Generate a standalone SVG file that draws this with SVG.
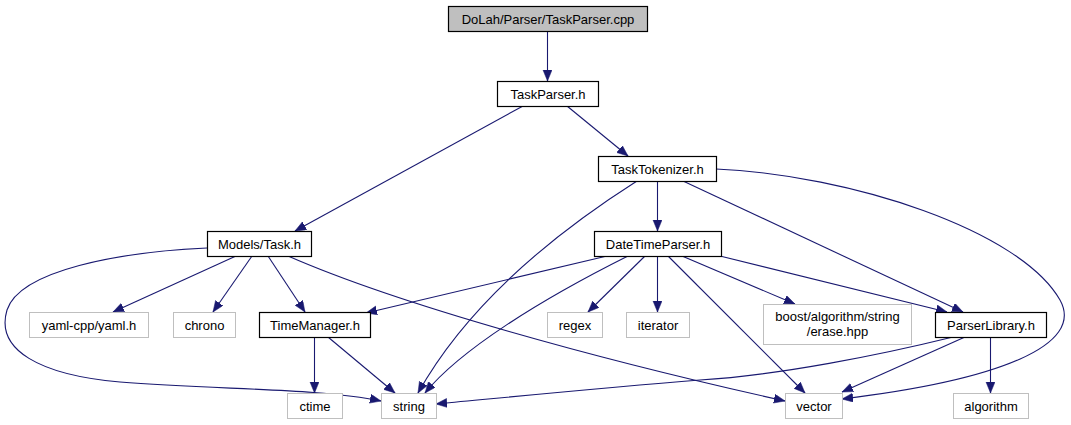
<svg xmlns="http://www.w3.org/2000/svg" width="1071" height="425" viewBox="0 0 1071 425">
<style>
.n rect{fill:#fff;stroke:#000;stroke-width:1.2}
.n.root rect{fill:#bfbfbf}
.n.ext rect{stroke:#bfbfbf;stroke-width:1}
text{font-family:"Liberation Sans",Arial,sans-serif;font-size:13px;fill:#000;text-anchor:middle}
#edges path{fill:none;stroke:#191970;stroke-width:1.1;marker-end:url(#ah)}
</style>
<defs>
<marker id="ah" markerUnits="userSpaceOnUse" markerWidth="12" markerHeight="10" refX="11" refY="4.5" orient="auto">
<path d="M0,0 L11,4.5 L0,9 z" fill="#191970" stroke="#191970" stroke-width="0.5"/>
</marker>
</defs>
<rect width="1071" height="425" fill="#fff"/>
<g id="edges">
<path d="M547.5,31 L547.5,81"/>
<path d="M523,106 L295,231"/>
<path d="M567,106 L628,156"/>
<path d="M657.5,181 L657.5,231"/>
<path d="M637,181 C560,230 470,300 418,393"/>
<path d="M683,181 L963,312"/>
<path d="M716,169 C850,175 1020,230 1060,300 C1085,345 1000,380 842,399"/>
<path d="M607,256 L366,313"/>
<path d="M628,256 C540,300 460,350 425,393"/>
<path d="M645,256 L588,312"/>
<path d="M657.5,256 L657.5,312"/>
<path d="M668,256 L805,393"/>
<path d="M682,256 L795,304"/>
<path d="M720,256 L947,312"/>
<path d="M207,248 C120,252 20,270 7,310 C-5,350 40,375 120,382 C220,390 320,388 381,401"/>
<path d="M236,256 L113,312"/>
<path d="M252,256 L213,312"/>
<path d="M268,256 L305,312"/>
<path d="M288,256 C400,305 600,360 785,401"/>
<path d="M314.5,337 L314.5,393"/>
<path d="M328,337 L395,393"/>
<path d="M953,337 C880,355 780,375 700,380 C600,388 500,398 436,404"/>
<path d="M965,337 L842,392"/>
<path d="M990.5,337 L990.5,393"/>
</g>
<g id="n_cpp" class="n root"><rect x="448.5" y="6.5" width="199" height="25"/><text x="548" y="23.5">DoLah/Parser/TaskParser.cpp</text></g>
<g id="n_taskparser" class="n"><rect x="497.5" y="81.5" width="101" height="25"/><text x="548" y="98.5">TaskParser.h</text></g>
<g id="n_task" class="n"><rect x="207.5" y="231.5" width="104" height="25"/><text x="259.5" y="248.5">Models/Task.h</text></g>
<g id="n_tokenizer" class="n"><rect x="598.5" y="156.5" width="118" height="25"/><text x="657.5" y="173.5">TaskTokenizer.h</text></g>
<g id="n_datetime" class="n"><rect x="594.5" y="231.5" width="127" height="25"/><text x="658" y="248.5">DateTimeParser.h</text></g>
<g id="n_timemgr" class="n"><rect x="259.5" y="312.5" width="111" height="25"/><text x="315" y="329.5">TimeManager.h</text></g>
<g id="n_parserlib" class="n"><rect x="935.5" y="312.5" width="111" height="25"/><text x="991" y="329.5">ParserLibrary.h</text></g>
<g id="n_boost" class="n ext"><rect x="763.5" y="304.5" width="148" height="40"/><text x="837.5" y="321">boost/algorithm/string</text><text x="837.5" y="336">/erase.hpp</text></g>
<g id="n_yaml" class="n ext"><rect x="29.5" y="312.5" width="119" height="25"/><text x="89" y="329.5">yaml-cpp/yaml.h</text></g>
<g id="n_chrono" class="n ext"><rect x="173.5" y="312.5" width="62" height="25"/><text x="204.5" y="329.5">chrono</text></g>
<g id="n_regex" class="n ext"><rect x="547.5" y="312.5" width="55" height="25"/><text x="575" y="329.5">regex</text></g>
<g id="n_iterator" class="n ext"><rect x="626.5" y="312.5" width="63" height="25"/><text x="658" y="329.5">iterator</text></g>
<g id="n_ctime" class="n ext"><rect x="287.5" y="393.5" width="55" height="25"/><text x="315" y="410.5">ctime</text></g>
<g id="n_string" class="n ext"><rect x="381.5" y="393.5" width="55" height="25"/><text x="409" y="410.5">string</text></g>
<g id="n_vector" class="n ext"><rect x="785.5" y="393.5" width="57" height="25"/><text x="814" y="410.5">vector</text></g>
<g id="n_algorithm" class="n ext"><rect x="953.5" y="393.5" width="75" height="25"/><text x="991" y="410.5">algorithm</text></g>
</svg>
